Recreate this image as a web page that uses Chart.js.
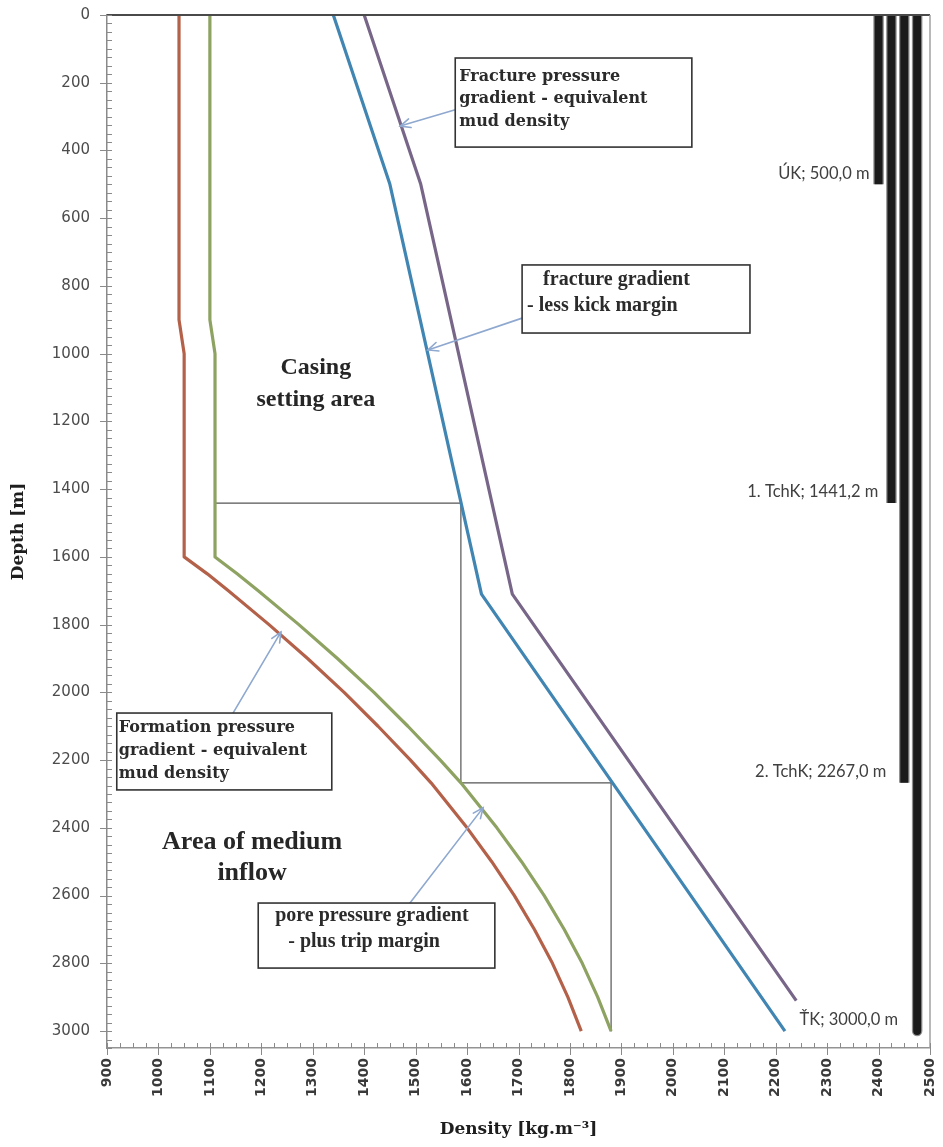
<!DOCTYPE html>
<html>
<head>
<meta charset="utf-8">
<script src="https://cdn.jsdelivr.net/npm/chart.js@4.4.1/dist/chart.umd.min.js"></script>
<style>
  html, body { margin: 0; padding: 0; background: #ffffff; }
  #wrap { width: 943px; height: 1147px; position: relative; }
</style>
</head>
<body>
<div id="wrap"><canvas id="chart" width="943" height="1147"></canvas></div>
<script>
// Formation pressure gradient expressed as equivalent mud density (kg/m3) vs depth (m)
const formationDepth   = [0, 900, 1000, 1600, 1650, 1700, 1800, 1900, 2000, 2100, 2200, 2267, 2400, 2500, 2600, 2700, 2800, 2900, 3000];
const formationDensity = [1040, 1040, 1050, 1050, 1095, 1136, 1215, 1290, 1361, 1427, 1490, 1530, 1600, 1648, 1692, 1731, 1766, 1796, 1822];

// Pore pressure gradient plus trip margin
const poreTripDepth   = [0, 900, 1000, 1600, 1650, 1700, 1800, 1900, 2000, 2100, 2200, 2267, 2400, 2500, 2600, 2700, 2800, 2900, 3000];
const poreTripDensity = [1100, 1100, 1110, 1110, 1153, 1194, 1273, 1348, 1419, 1485, 1548, 1588, 1658, 1706, 1750, 1789, 1824, 1854, 1880];

// Fracture gradient less kick margin
const fracKickDepth   = [0, 500, 1710, 3000];
const fracKickDensity = [1340, 1450, 1628, 2218];

// Fracture pressure gradient expressed as equivalent mud density
const fractureDepth   = [0, 500, 1710, 2910];
const fractureDensity = [1400, 1510, 1688, 2240];

// Casing setting construction (step line between the curves)
const stepDepth   = [1441, 1441, 2267, 2267, 3000];
const stepDensity = [1110, 1588, 1588, 1880, 1880];

// Casing strings: name, setting depth and the column where each string is drawn
const casingNames   = ['ÚK', '1. TchK', '2. TchK', 'ŤK'];
const casingDepths  = [500.0, 1441.2, 2267.0, 3000.0];
const casingColumns = [2400, 2425, 2450, 2475];

// Axis tick values
const densityTicks = [900, 1000, 1100, 1200, 1300, 1400, 1500, 1600, 1700, 1800, 1900, 2000, 2100, 2200, 2300, 2400, 2500];
const depthTicks   = [0, 200, 400, 600, 800, 1000, 1200, 1400, 1600, 1800, 2000, 2200, 2400, 2600, 2800, 3000];

const pts = (xs, ys) => xs.map((x, i) => ({ x: x, y: ys[i] }));

const curve = (label, xs, ys, color, width) => ({
  label, data: pts(xs, ys), borderColor: color, borderWidth: width,
  showLine: true, pointRadius: 0, fill: false, tension: 0, clip: 0,
  borderJoinStyle: 'round', borderCapStyle: 'butt'
});

// Chart.js paints the first dataset last, so the curves come first
const datasets = [
  curve('Fracture pressure', fractureDensity, fractureDepth, '#786689', 3.2),
  curve('Fracture gradient - kick margin', fracKickDensity, fracKickDepth, '#4185b3', 3.2),
  curve('Pore pressure + trip margin', poreTripDensity, poreTripDepth, '#8ea262', 3.2),
  curve('Formation pressure', formationDensity, formationDepth, '#b4614a', 3.2),
  curve('steps', stepDensity, stepDepth, '#555555', 1.2)
];
// casing strings: dark column over a thin gray outline
casingColumns.forEach((col, i) => {
  const last = i === casingColumns.length - 1;
  datasets.push({
    label: casingNames[i], data: [{ x: col, y: 0 }, { x: col, y: casingDepths[i] }],
    borderColor: '#1b1b1b', borderWidth: 8, showLine: true, pointRadius: 0, clip: 0,
    borderCapStyle: last ? 'round' : 'butt'
  });
});
casingColumns.forEach((col, i) => {
  const last = i === casingColumns.length - 1;
  datasets.push({
    label: casingNames[i] + ' outline', data: [{ x: col, y: 0 }, { x: col, y: casingDepths[i] }],
    borderColor: '#8f8f8f', borderWidth: 10.5, showLine: true, pointRadius: 0, clip: 0,
    borderCapStyle: last ? 'round' : 'butt'
  });
});

// Text notes with leader arrows (anchors in data units: density, depth)
const boxNotes = [
  { box: [1577, 127, 2037, 390], font: 'bold 16px "DejaVu Serif"',
    lines: [['Fracture pressure', 4, 19], ['gradient - equivalent', 4, 41], ['mud density', 4, 64]],
    arrow: [[1577, 280], [1470, 328]] },
  { box: [1707, 738, 2150, 939], font: 'bold 20px "Liberation Serif"',
    lines: [['fracture gradient', 21, 15], ['- less kick margin', 5, 41]],
    arrow: [[1707, 895], [1524, 989]] },
  { box: [919, 2061, 1337, 2288], font: 'bold 16px "DejaVu Serif"',
    lines: [['Formation pressure', 2, 15], ['gradient - equivalent', 2, 38], ['mud density', 2, 61]],
    arrow: [[1145, 2061], [1238, 1822]] },
  { box: [1194, 2622, 1654, 2814], font: 'bold 20px "Liberation Serif"',
    lines: [['pore pressure gradient', 17, 13], ['- plus trip margin', 30, 39]],
    arrow: [[1489, 2622], [1631, 2341]] }
];
const areaNotes = [
  { x: 1306, y: 1042, text: 'Casing', size: 24 }, { x: 1306, y: 1137, text: 'setting area', size: 24 },
  { x: 1182, y: 2442, text: 'Area of medium', size: 26 }, { x: 1182, y: 2533, text: 'inflow', size: 26 }
];
const casingLabelGap = [9, 13, 18, 19];

const decor = {
  id: 'decor',
  afterDatasetsDraw(chart) {
    const { ctx, chartArea: a, scales: { x, y } } = chart;
    ctx.save();

    // frame: top and right edges
    ctx.strokeStyle = '#4a4a4a'; ctx.lineWidth = 2;
    ctx.beginPath(); ctx.moveTo(a.left, a.top); ctx.lineTo(a.right, a.top); ctx.stroke();
    ctx.strokeStyle = '#a0a0a0'; ctx.lineWidth = 1.5;
    ctx.beginPath(); ctx.moveTo(a.right, a.top); ctx.lineTo(a.right, a.bottom); ctx.stroke();

    // major and minor tick marks
    ctx.strokeStyle = '#8a8a8a'; ctx.lineWidth = 1;
    for (let d = 0; d <= 3050; d += 25) {
      const py = Math.round(y.getPixelForValue(d)) + 0.5;
      const major = d % 200 === 0 && d <= 3000;
      ctx.beginPath();
      ctx.moveTo(major ? a.left - 7 : a.left, py);
      ctx.lineTo(a.left + 5, py);
      ctx.stroke();
    }
    for (let v = 900; v <= 2500; v += 25) {
      const px = Math.round(x.getPixelForValue(v)) + 0.5;
      const major = v % 100 === 0;
      ctx.beginPath();
      ctx.moveTo(px, a.bottom - 5);
      ctx.lineTo(px, major ? a.bottom + 7 : a.bottom);
      ctx.stroke();
    }

    // casing string labels
    ctx.font = '16.5px Lato';
    ctx.fillStyle = '#404040';
    ctx.textAlign = 'right'; ctx.textBaseline = 'middle';
    casingNames.forEach((n, i) => {
      const txt = n + '; ' + casingDepths[i].toFixed(1).replace('.', ',') + ' m';
      const px = x.getPixelForValue(casingColumns[i]) - casingLabelGap[i];
      const py = y.getPixelForValue(casingDepths[i]) - 11;
      ctx.fillText(txt, px, py);
    });

    // area captions
    ctx.fillStyle = '#262626';
    ctx.textAlign = 'center';
    areaNotes.forEach(n => {
      ctx.font = 'bold ' + n.size + 'px "Liberation Serif"';
      ctx.fillText(n.text, x.getPixelForValue(n.x), y.getPixelForValue(n.y));
    });

    // boxed notes and their arrows
    boxNotes.forEach(n => {
      const [[sx, sy], [tx, ty]] = n.arrow;
      const x0 = x.getPixelForValue(sx), y0 = y.getPixelForValue(sy);
      const x1 = x.getPixelForValue(tx), y1 = y.getPixelForValue(ty);
      ctx.strokeStyle = '#8ea8cf'; ctx.lineWidth = 1.6; ctx.lineCap = 'round';
      ctx.beginPath(); ctx.moveTo(x0, y0); ctx.lineTo(x1, y1); ctx.stroke();
      const ang = Math.atan2(y1 - y0, x1 - x0), L = 11, w = 0.42;
      ctx.beginPath();
      ctx.moveTo(x1 - L * Math.cos(ang - w), y1 - L * Math.sin(ang - w));
      ctx.lineTo(x1, y1);
      ctx.lineTo(x1 - L * Math.cos(ang + w), y1 - L * Math.sin(ang + w));
      ctx.stroke();

      const bl = x.getPixelForValue(n.box[0]), bt = y.getPixelForValue(n.box[1]);
      const br = x.getPixelForValue(n.box[2]), bb = y.getPixelForValue(n.box[3]);
      ctx.fillStyle = '#ffffff';
      ctx.fillRect(bl, bt, br - bl, bb - bt);
      ctx.strokeStyle = '#333333'; ctx.lineWidth = 1.6;
      ctx.strokeRect(bl, bt, br - bl, bb - bt);
      ctx.font = n.font; ctx.fillStyle = '#2b2b2b';
      ctx.textAlign = 'left'; ctx.textBaseline = 'middle';
      n.lines.forEach(([t, dx, dy]) => ctx.fillText(t, bl + dx, bt + dy));
    });
    ctx.restore();
  }
};

new Chart(document.getElementById('chart'), {
  type: 'scatter',
  data: { datasets },
  options: {
    responsive: false,
    animation: false,
    events: [],
    layout: { padding: { left: 0, right: 13, top: 15, bottom: 0 } },
    plugins: { legend: { display: false }, tooltip: { enabled: false } },
    scales: {
      x: {
        type: 'linear', position: 'bottom', min: 900, max: 2500,
        afterBuildTicks: s => { s.ticks = densityTicks.map(v => ({ value: v })); },
        afterFit: s => { s.height = 99; s.paddingLeft = 0; s.paddingRight = 0; },
        grid: { display: false, drawTicks: false },
        border: { display: true, color: '#939393', width: 1.5 },
        ticks: {
          autoSkip: false, maxRotation: 90, minRotation: 90, padding: 10,
          color: '#3a3a3a', font: { family: 'DejaVu Sans', size: 14, weight: 'bold' },
          callback: v => String(v)
        },
        title: {
          display: true, text: 'Density [kg.m⁻³]', color: '#1e1e1e',
          font: { family: 'DejaVu Serif', size: 17, weight: 'bold' },
          padding: { top: 0, bottom: 7 }
        }
      },
      y: {
        type: 'linear', position: 'left', reverse: true, min: 0, max: 3050,
        afterBuildTicks: s => { s.ticks = depthTicks.map(v => ({ value: v })); },
        afterFit: s => { s.width = 107; s.paddingTop = 0; s.paddingBottom = 0; },
        grid: { display: false, drawTicks: false },
        border: { display: true, color: '#8a8a8a', width: 1.5 },
        ticks: {
          autoSkip: false, padding: 17, color: '#4c4c4c',
          font: { family: 'DejaVu Sans', size: 15 },
          callback: v => String(v)
        },
        title: {
          display: true, text: 'Depth [m]', color: '#1e1e1e',
          font: { family: 'DejaVu Serif', size: 17, weight: 'bold' },
          padding: { top: 8, bottom: 0 }
        }
      }
    }
  },
  plugins: [decor]
});
</script>
</body>
</html>
